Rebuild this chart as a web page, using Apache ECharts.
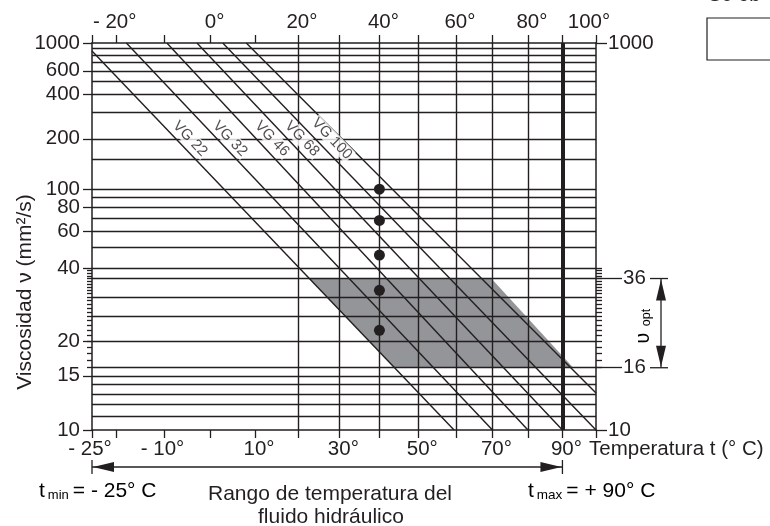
<!DOCTYPE html>
<html>
<head>
<meta charset="utf-8">
<script src="https://cdn.jsdelivr.net/npm/echarts@6/dist/echarts.min.js"></script>
<style>
  html, body { margin: 0; padding: 0; background: #fff; }
  #chart { width: 770px; height: 526px; }
</style>
</head>
<body>
<div id="chart"></div>
<script>
// ---- data -------------------------------------------------------------
// temperature scale (°C)
const tempTicks = [-25, -20, -10, 0, 10, 20, 30, 40, 50, 60, 70, 80, 90, 100];
const topTempLabels = [-20, 0, 20, 40, 60, 80, 100];
const bottomTempLabels = [-25, -10, 10, 30, 50, 70, 90];
const tempGridLines = [20, 30, 40, 50, 60, 70, 80];
const tempMin = -25;
const tempMax = 90;
const tempAxisEnd = 100;

// viscosity scale (mm²/s)
const viscGridLines = [11, 12, 13, 14, 15, 16, 20, 25, 30, 36, 40, 50, 60, 70, 80, 90,
  100, 150, 200, 300, 400, 500, 600, 700, 800, 900];
const leftViscLabels = [10, 15, 20, 40, 60, 80, 100, 200, 400, 600, 1000];
const rightViscLabels = [10, 1000];
const optViscLabels = [16, 36];
const viscMinorTicks = [16, 17, 18, 19, 20, 21, 22, 23, 24, 25, 26, 27, 28, 29, 30,
  31, 32, 33, 34, 35, 36, 37, 38, 39, 40];
const viscMin = 10;
const viscMax = 1000;

// ISO viscosity grades, nominal value at 40 °C
const vgNames = ['VG 22', 'VG 32', 'VG 46', 'VG 68', 'VG 100'];
const vgAt40 = [22, 32, 46, 68, 100];
const vgRefTemp = 40;
const vgLabelTemps = [-4.5, 4.3, 13.9, 21.0, 28.2];
const vgLabelVisc = [200, 200, 200, 200, 200];

// viscosity–temperature lines: start and end points
const lineStartTemp = [-25, -18, -9.5, -3, 2.7, 8];
const lineStartVisc = [860, 1000, 1000, 1000, 1000, 1000];
const lineEndTemp = [59.5, 70, 80, 90, 100, 100];
const lineEndVisc = [10, 10, 10, 10, 10, 13.1];

// optimum operating band (corners)
const optBandTemp = [22.7, 69.7, 93.2, 43.9];
const optBandVisc = [36, 36, 16, 16];

// ---- scales -----------------------------------------------------------
// Walther-type chart: x = log(T in kelvin), y = log(log(v + 0.7))
const tx = t => Math.log10(t + 273.15);
const vy = v => Math.log10(Math.log10(v + 0.7));
const txInv = x => Math.round(Math.pow(10, x) - 273.15);
const vyInv = y => Math.round(Math.pow(10, Math.pow(10, y)) - 0.7);

const FONT = '"Liberation Sans", Arial, Helvetica, sans-serif';
const INK = '#231f20';
const TICK_FS = 20.5;

const base = { fontSize: TICK_FS, fontFamily: FONT, color: INK };
const degRich = {
  pos: Object.assign({}, base, { padding: [0, 0, 0, 8] }),
  neg: Object.assign({}, base, { padding: [0, 4, 0, 0] }),
  edge: Object.assign({}, base, { padding: [0, 14, 0, 0] })
};
function degLabel(v) {
  const t = txInv(v);
  if (t < 0) return '{neg|- ' + (-t) + '°}';
  if (t === tempAxisEnd) return '{edge|' + t + '°}';
  return '{pos|' + t + '°}';
}

const xRange = { min: tx(tempMin), max: tx(tempAxisEnd) };
const yRange = { min: vy(viscMin), max: vy(viscMax) };

function xAxisDef(pos, labels, margin) {
  return Object.assign({
    type: 'value', position: pos, gridIndex: 0,
    axisLine: { show: true, onZero: false, lineStyle: { color: INK, width: 1.5 } },
    axisTick: { show: true, inside: false, length: 8, customValues: tempTicks.map(tx),
      lineStyle: { color: INK, width: 1.3 } },
    axisLabel: { show: true, customValues: labels.map(tx), formatter: degLabel,
      margin: margin, rich: degRich, color: INK, fontSize: TICK_FS, fontFamily: FONT },
    splitLine: { show: false }
  }, xRange);
}

function yAxisDef(pos, opts) {
  return Object.assign({
    type: 'value', position: pos, gridIndex: 0, offset: 0,
    axisLine: { show: !!opts.line, onZero: false, lineStyle: { color: INK, width: 1.5 } },
    axisTick: { show: true, inside: false, length: opts.tick,
      customValues: opts.ticks.map(vy), lineStyle: { color: INK, width: 1.3 } },
    axisLabel: opts.labels ? { show: true, customValues: opts.labels.map(vy),
      formatter: v => String(vyInv(v)), margin: opts.margin,
      color: INK, fontSize: TICK_FS, fontFamily: FONT } : { show: false },
    splitLine: { show: false }
  }, yRange);
}

// grid lines drawn as segments through the chart's own scales
const gridSegments = viscGridLines.map(v => ({
    coords: [[tx(tempMin), vy(v)], [tx(tempAxisEnd), vy(v)]]
  }))
  .concat(tempGridLines.map(t => ({
    coords: [[tx(t), vy(viscMin)], [tx(t), vy(viscMax)]]
  })))
  .concat([{
    coords: [[tx(tempMax), vy(viscMin)], [tx(tempMax), vy(viscMax)]],
    lineStyle: { width: 4 }
  }]);

const chart = echarts.init(document.getElementById('chart'), null, { renderer: 'canvas' });

const option = {
  animation: false,
  backgroundColor: '#fff',
  grid: { left: 92, right: 174, top: 43, bottom: 96, containLabel: false, outerBoundsMode: 'none' },
  xAxis: [
    xAxisDef('bottom', bottomTempLabels, 9),
    xAxisDef('top', topTempLabels, 10)
  ],
  yAxis: [
    yAxisDef('left', { line: true, tick: 9, ticks: leftViscLabels, labels: leftViscLabels, margin: 12 }),
    yAxisDef('left', { tick: 5, ticks: viscMinorTicks.filter(v => v < 40) }),
    yAxisDef('right', { line: true, tick: 11, ticks: rightViscLabels, labels: rightViscLabels, margin: 12 }),
    yAxisDef('right', { tick: 26, ticks: optViscLabels, labels: optViscLabels, margin: 27 }),
    yAxisDef('right', { tick: 6, ticks: viscMinorTicks })
  ],
  series: [
    {
      // optimum viscosity band
      type: 'custom', name: 'band', coordinateSystem: 'cartesian2d',
      xAxisIndex: 0, yAxisIndex: 0, silent: true, z: 1,
      data: [[tx(optBandTemp[0]), vy(optBandVisc[0])]],
      renderItem: (params, api) => ({
        type: 'polygon',
        shape: { points: optBandTemp.map((t, i) => api.coord([tx(t), vy(optBandVisc[i])])) },
        style: { fill: '#939598' }
      })
    },
    {
      // grid lines
      type: 'lines', name: 'grid', coordinateSystem: 'cartesian2d',
      xAxisIndex: 0, yAxisIndex: 0, z: 2, silent: true,
      lineStyle: { color: INK, width: 1.4, opacity: 1, curveness: 0 },
      data: gridSegments
    },
    {
      // viscosity–temperature lines
      type: 'lines', name: 'vt', coordinateSystem: 'cartesian2d',
      xAxisIndex: 0, yAxisIndex: 0, z: 3, silent: true,
      lineStyle: { color: INK, width: 1.4, opacity: 1, curveness: 0 },
      data: lineStartTemp.map((t, i) => ({
        coords: [[tx(t), vy(lineStartVisc[i])], [tx(lineEndTemp[i]), vy(lineEndVisc[i])]]
      }))
    },
    {
      // grade labels
      type: 'scatter', name: 'labels', xAxisIndex: 0, yAxisIndex: 0, z: 4, silent: true,
      symbolSize: 1, itemStyle: { color: 'rgba(0,0,0,0)' },
      data: vgLabelTemps.map((t, i) => [tx(t), vy(vgLabelVisc[i])]),
      label: {
        show: true, position: 'inside', rotate: -46,
        formatter: p => vgNames[p.dataIndex],
        fontSize: 15, fontFamily: FONT, color: INK,
        backgroundColor: '#fff', padding: [0, 1]
      }
    },
    {
      // grades at 40 °C
      type: 'scatter', name: 'grades', xAxisIndex: 0, yAxisIndex: 0, z: 5, silent: true,
      symbol: 'circle', symbolSize: 11, itemStyle: { color: INK, opacity: 1 },
      data: vgAt40.map(v => [tx(vgRefTemp), vy(v)])
    }
  ]
};

chart.setOption(option);

// ---- annotations ------------------------------------------------------
const toPx = (t, v) => chart.convertToPixel({ xAxisIndex: 0, yAxisIndex: 0 }, [tx(t), vy(v)]);
const pMin = toPx(tempMin, viscMin);
const pMax = toPx(tempMax, viscMin);
const pOptTop = toPx(tempAxisEnd, optViscLabels[1]);
const pOptBot = toPx(tempAxisEnd, optViscLabels[0]);

const lineStyle = { stroke: INK, lineWidth: 1.3 };
const arrowY = 467;
const arrowX = 661;
const head = 22, half = 5;

const txt = (x, y, text, extra) => ({
  type: 'text', x: x, y: y, silent: true,
  style: Object.assign({ text: text, fontSize: 21, fontFamily: FONT, fill: INK,
    align: 'left', verticalAlign: 'middle' }, extra || {})
});

const richSub = (big, small) => ({
  a: { fontSize: big, fontFamily: FONT, color: INK, verticalAlign: 'bottom' },
  b: { fontSize: small, fontFamily: FONT, color: INK, verticalAlign: 'bottom', padding: [0, 4, 0, 3] }
});

chart.setOption({
  graphic: [
    // temperature range arrow
    { type: 'line', silent: true, shape: { x1: pMin[0], y1: arrowY, x2: pMax[0], y2: arrowY }, style: lineStyle },
    { type: 'line', silent: true, shape: { x1: pMin[0], y1: arrowY - 7, x2: pMin[0], y2: arrowY + 7 }, style: lineStyle },
    { type: 'line', silent: true, shape: { x1: pMax[0], y1: arrowY - 7, x2: pMax[0], y2: arrowY + 7 }, style: lineStyle },
    { type: 'polygon', silent: true, shape: { points: [[pMin[0] + 1, arrowY], [pMin[0] + head, arrowY - half], [pMin[0] + head, arrowY + half]] }, style: { fill: INK } },
    { type: 'polygon', silent: true, shape: { points: [[pMax[0] - 1, arrowY], [pMax[0] - head, arrowY - half], [pMax[0] - head, arrowY + half]] }, style: { fill: INK } },

    // optimum viscosity arrow
    { type: 'line', silent: true, shape: { x1: arrowX, y1: pOptTop[1], x2: arrowX, y2: pOptBot[1] }, style: lineStyle },
    { type: 'line', silent: true, shape: { x1: 650, y1: pOptTop[1], x2: 668, y2: pOptTop[1] }, style: lineStyle },
    { type: 'line', silent: true, shape: { x1: 650, y1: pOptBot[1], x2: 668, y2: pOptBot[1] }, style: lineStyle },
    { type: 'polygon', silent: true, shape: { points: [[arrowX, pOptTop[1] + 1], [arrowX - half, pOptTop[1] + head], [arrowX + half, pOptTop[1] + head]] }, style: { fill: INK } },
    { type: 'polygon', silent: true, shape: { points: [[arrowX, pOptBot[1] - 1], [arrowX - half, pOptBot[1] - head], [arrowX + half, pOptBot[1] - head]] }, style: { fill: INK } },
    { type: 'text', x: 643, y: (pOptTop[1] + pOptBot[1]) / 2 + 1, rotation: Math.PI / 2, silent: true,
      style: { text: '{a|ʋ} {b|opt}', rich: richSub(20, 12.5), align: 'center', verticalAlign: 'middle' } },

    // axis titles and captions
    { type: 'text', x: 25, y: 292, rotation: Math.PI / 2, silent: true,
      style: { text: 'Viscosidad ν (mm²/s)', fontSize: 21, fontFamily: FONT, fill: INK, align: 'center', verticalAlign: 'middle' } },
    txt(589, 449, 'Temperatura t (° C)', { fontSize: 20.5 }),
    { type: 'text', x: 39, y: 502, silent: true,
      style: { text: '{a|t}{b|min}{a|= - 25° C}', rich: richSub(21, 13), align: 'left', verticalAlign: 'bottom' } },
    { type: 'text', x: 528, y: 502, silent: true,
      style: { text: '{a|t}{b|max}{a|= + 90° C}', rich: richSub(21, 13.5), align: 'left', verticalAlign: 'bottom' } },
    txt(330, 494, 'Rango de temperatura del', { align: 'center' }),
    txt(331, 517, 'fluido hidráulico', { align: 'center' }),

    // neighbouring panel at the top right
    txt(708, 5, 'Se ob', { fontSize: 20, verticalAlign: 'bottom' }),
    { type: 'rect', silent: true, shape: { x: 707, y: 18, width: 100, height: 42 },
      style: { fill: '#fff', stroke: INK, lineWidth: 1.2 } }
  ]
});
</script>
</body>
</html>
